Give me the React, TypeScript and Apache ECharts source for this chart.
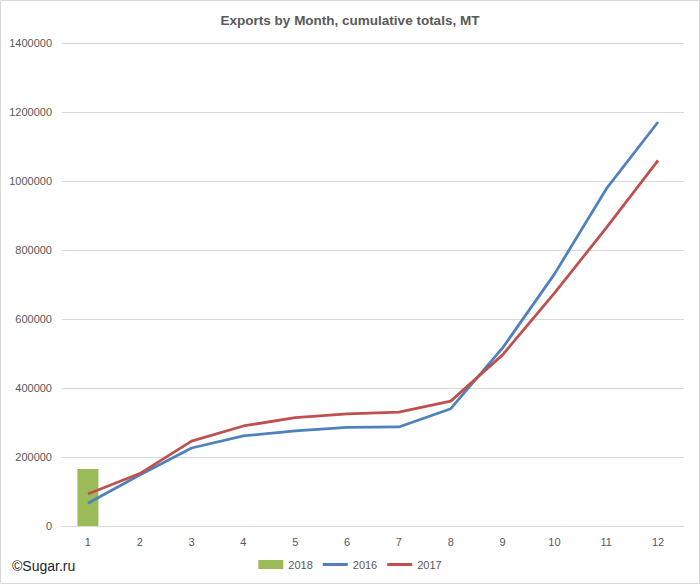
import React, { useEffect, useRef } from "react";
import * as echarts from "echarts";

const months = ["1", "2", "3", "4", "5", "6", "7", "8", "9", "10", "11", "12"];
const exports2018 = [165000, null, null, null, null, null, null, null, null, null, null, null];
const exports2016 = [66000, 148000, 226000, 261000, 276000, 286000, 287000, 340000, 516000, 730000, 977000, 1171000];
const exports2017 = [93000, 152000, 246000, 290000, 314000, 325000, 330000, 362000, 496000, 675000, 864000, 1060000];
const yTicks = { min: 0, max: 1400000, interval: 200000 };

export default function App() {
  const ref = useRef<HTMLDivElement>(null);
  useEffect(() => {
    if (!ref.current) return;
    const chart = echarts.init(ref.current, null, { renderer: "svg" });
    const font = "'Liberation Sans', Arial, sans-serif";
    const lineIcon = "path://M0,0 L25,0 L25,3 L0,3 Z";
    chart.setOption({
      animation: false,
      backgroundColor: "#ffffff",
      textStyle: { fontFamily: font },
      title: {
        text: "Exports by Month, cumulative totals, MT",
        left: "center",
        top: 8,
        textStyle: { fontFamily: font, fontSize: 13.5, fontWeight: "bold", color: "#595959" },
      },
      grid: { left: 62, right: 16, top: 43, bottom: 58, containLabel: false },
      xAxis: {
        type: "category",
        data: months,
        axisLine: { show: true, lineStyle: { color: "#d9d9d9" } },
        axisTick: { show: false },
        axisLabel: { color: "#595959", fontSize: 11, margin: 10, fontFamily: font },
      },
      yAxis: {
        type: "value",
        min: yTicks.min,
        max: yTicks.max,
        interval: yTicks.interval,
        axisLine: { show: false },
        axisTick: { show: false },
        axisLabel: {
          color: "#595959",
          fontSize: 11,
          margin: 10,
          fontFamily: font,
          formatter: (v: number) => String(v),
        },
        splitLine: { lineStyle: { color: "#d9d9d9", width: 1 } },
      },
      legend: {
        bottom: 9,
        left: "center",
        itemWidth: 25,
        itemHeight: 9,
        itemGap: 10,
        textStyle: { color: "#595959", fontSize: 11, fontFamily: font },
        data: [
          { name: "2018", icon: "rect" },
          { name: "2016", icon: lineIcon },
          { name: "2017", icon: lineIcon },
        ],
      },
      graphic: [
        {
          type: "rect",
          shape: { x: 0.5, y: 0.5, width: 699, height: 583 },
          style: { fill: "none", stroke: "#d9d9d9", lineWidth: 1 },
          silent: true,
        },
        {
          type: "text",
          left: 12,
          top: 559,
          style: { text: "©Sugar.ru", fontSize: 14, fill: "#262626", fontFamily: font },
        },
      ],
      series: [
        {
          name: "2018",
          type: "bar",
          data: exports2018,
          barWidth: 21,
          itemStyle: { color: "#9bbb59" },
          z: 1,
        },
        {
          name: "2016",
          type: "line",
          data: exports2016,
          symbol: "none",
          lineStyle: { color: "#4f81bd", width: 2.75 },
          itemStyle: { color: "#4f81bd" },
          z: 3,
        },
        {
          name: "2017",
          type: "line",
          data: exports2017,
          symbol: "none",
          lineStyle: { color: "#c0504d", width: 2.75 },
          itemStyle: { color: "#c0504d" },
          z: 4,
        },
      ],
    });
    return () => chart.dispose();
  }, []);
  return (
    <div
      ref={ref}
      style={{ position: "absolute", left: 0, top: 0, width: 700, height: 584 }}
    />
  );
}
